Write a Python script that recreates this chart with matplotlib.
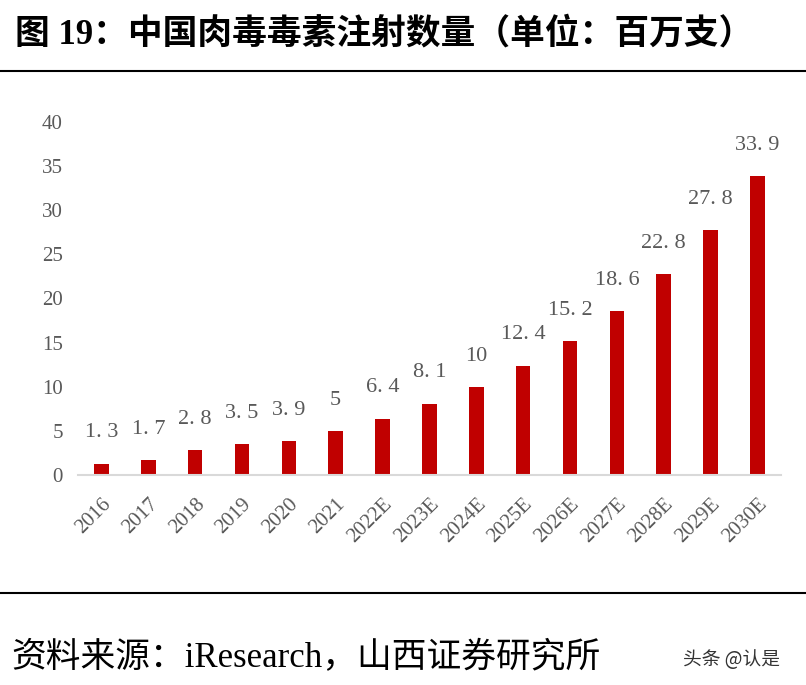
import matplotlib
matplotlib.use('Agg')
import matplotlib.pyplot as plt

plt.rcParams['font.family'] = ['Liberation Serif', 'Noto Sans CJK SC', 'DejaVu Sans']

years = ['2016', '2017', '2018', '2019', '2020', '2021', '2022E', '2023E',
         '2024E', '2025E', '2026E', '2027E', '2028E', '2029E', '2030E']
values = [1.3, 1.7, 2.8, 3.5, 3.9, 5, 6.4, 8.1, 10, 12.4, 15.2, 18.6, 22.8, 27.8, 33.9]
yticks = [0, 5, 10, 15, 20, 25, 30, 35, 40]

title = '图 19：中国肉毒毒素注射数量（单位：百万支）'
source = '资料来源：iResearch，山西证券研究所'
mark = '头条 @认是'

fig = plt.figure(figsize=(8.06, 6.85), dpi=100)
ax = fig.add_axes([0.0968, 0.3066, 0.872, 0.5153])

x = range(len(years))
ax.bar(x, values, width=0.31, color='#C00000')
for i, v in enumerate(values):
    lab = ('%g' % v).replace('.', '. ')
    ax.annotate(lab, (i, v), xytext=(0, 22), textcoords='offset points',
                ha='center', va='center', fontsize=16, color='#595959')

ax.set_xlim(-0.5, len(years) - 0.5)
ax.set_ylim(0, 40)
ax.set_yticks(yticks)
ax.set_yticklabels([str(t) for t in yticks], fontsize=15, color='#595959')
ax.set_xticks(list(x))
ax.set_xticklabels(years, fontsize=15, color='#595959', rotation=45,
                   ha='right', rotation_mode='anchor')
ax.tick_params(axis='y', length=0, pad=11)
ax.tick_params(axis='x', length=0, pad=14)
for s in ['top', 'right', 'left']:
    ax.spines[s].set_visible(False)
ax.spines['bottom'].set_color('#d9d9d9')
ax.spines['bottom'].set_linewidth(1.5)

# title, rules and source
fig.text(0.018, 0.950, title, fontsize=25, weight='bold', va='center', ha='left')
fig.add_artist(plt.Line2D([0, 1], [0.896, 0.896], color='black', lw=1.5))
fig.add_artist(plt.Line2D([0, 1], [0.135, 0.135], color='black', lw=1.5))
fig.text(0.014, 0.039, source, fontsize=25, va='center', ha='left')
fig.text(0.847, 0.037, mark, fontsize=13.5, color='#333333', va='center', ha='left',
         family=['Noto Sans CJK SC', 'DejaVu Sans'])

fig.savefig('out.png', dpi=100)
